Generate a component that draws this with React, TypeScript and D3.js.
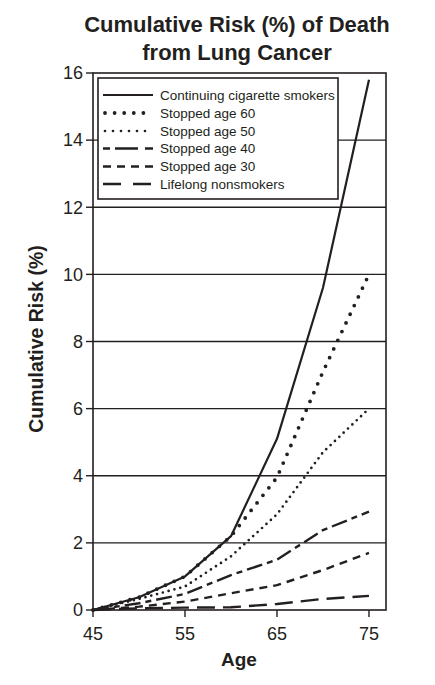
import React from "react";
import * as d3 from "d3";

const titleLines = ["Cumulative Risk (%) of Death", "from Lung Cancer"];
const ages = [45, 50, 55, 60, 65, 70, 75];
const continuing = [0, 0.38, 1.0, 2.2, 5.1, 9.6, 15.8];
const stopped60 = [0, 0.38, 1.0, 2.2, 3.95, 7.1, 10.0];
const stopped50 = [0, 0.33, 0.7, 1.6, 2.85, 4.7, 6.0];
const stopped40 = [0, 0.2, 0.48, 1.04, 1.5, 2.38, 2.93];
const stopped30 = [0, 0.1, 0.25, 0.5, 0.74, 1.19, 1.7];
const nonsmokers = [0, 0.05, 0.07, 0.08, 0.18, 0.33, 0.42];
const seriesNames = [
  "Continuing cigarette smokers",
  "Stopped age 60",
  "Stopped age 50",
  "Stopped age 40",
  "Stopped age 30",
  "Lifelong nonsmokers",
];
const xTicks = [45, 55, 65, 75];
const yTicks = [0, 2, 4, 6, 8, 10, 12, 14, 16];
const xDomain = [45, 76.85];
const yDomain = [0, 16];

const INK = "#231f20";
const FONT = "'Liberation Sans', Arial, sans-serif";

export default function App() {
  const W = 435, H = 685;
  const left = 93, right = 386, top = 73, bottom = 610;
  const x = d3.scaleLinear().domain(xDomain).range([left, right]);
  const y = d3.scaleLinear().domain(yDomain).range([bottom, top]);

  const allSeries = [continuing, stopped60, stopped50, stopped40, stopped30, nonsmokers];
  const styles = [
    { w: 2.2, dash: undefined, cap: "butt" },
    { w: 3.8, dash: "0,9.6", cap: "round" },
    { w: 2.7, dash: "0,6", cap: "round" },
    { w: 2.4, dash: "16,5,6,5", cap: "butt" },
    { w: 2.4, dash: "8,6", cap: "butt" },
    { w: 2.4, dash: "18,8", cap: "butt" },
  ];
  const legendDash = [undefined, "0,9.6", "0,8", "7,5,23,7,8", "8,6", "18,12"];

  const line = d3
    .line<number>()
    .x((_, i) => x(ages[i]))
    .y((d) => y(d));

  const legX = 98, legY = 78, legW = 240, legH = 121;
  const rowY = [95, 113, 131, 148.5, 166.5, 184];

  return (
    <svg
      width={W}
      height={H}
      style={{ position: "absolute", left: 0, top: 0, background: "#fff" }}
      fontFamily={FONT}
    >
      <rect x={0} y={0} width={W} height={H} fill="#fff" />
      {titleLines.map((t, i) => (
        <text
          key={t}
          x={237}
          y={32 + i * 28}
          textAnchor="middle"
          fontSize={22}
          fontWeight="bold"
          fill={INK}
        >
          {t}
        </text>
      ))}

      {/* grid lines */}
      {yTicks.filter((t) => t > 0 && t < 16).map((t) => (
        <line key={t} x1={left} x2={right} y1={y(t)} y2={y(t)} stroke={INK} strokeWidth={1.4} />
      ))}

      {/* frame */}
      <rect x={left} y={top} width={right - left} height={bottom - top} fill="none" stroke={INK} strokeWidth={1.6} />

      {/* y ticks */}
      {yTicks.map((t) => (
        <g key={t}>
          <line x1={left - 7} x2={left} y1={y(t)} y2={y(t)} stroke={INK} strokeWidth={1.4} />
          <text x={83} y={y(t) + 6.3} textAnchor="end" fontSize={18} fill={INK}>
            {t}
          </text>
        </g>
      ))}

      {/* x ticks */}
      {xTicks.map((t) => (
        <g key={t}>
          <line x1={x(t)} x2={x(t)} y1={bottom} y2={bottom + 7} stroke={INK} strokeWidth={1.4} />
          <text x={x(t)} y={640} textAnchor="middle" fontSize={18} fill={INK}>
            {t}
          </text>
        </g>
      ))}

      <text x={239} y={666} textAnchor="middle" fontSize={19} fontWeight="bold" fill={INK}>
        Age
      </text>
      <text
        transform={`translate(42.5,339) rotate(-90)`}
        textAnchor="middle"
        fontSize={19.5}
        fontWeight="bold"
        fill={INK}
      >
        Cumulative Risk (%)
      </text>

      {/* series */}
      {allSeries.map((s, i) => (
        <path
          key={i}
          d={line(s) || ""}
          fill="none"
          stroke={INK}
          strokeWidth={styles[i].w}
          strokeDasharray={styles[i].dash}
          strokeLinecap={styles[i].cap as any}
          strokeLinejoin="round"
        />
      ))}

      {/* legend */}
      <rect x={legX} y={legY} width={legW} height={legH} fill="#fff" stroke={INK} strokeWidth={1.6} />
      {seriesNames.map((n, i) => (
        <g key={n}>
          <line
            x1={i === 1 || i === 2 ? 105 : 103}
            x2={153}
            y1={rowY[i]}
            y2={rowY[i]}
            stroke={INK}
            strokeWidth={styles[i].w}
            strokeDasharray={legendDash[i]}
            strokeLinecap={styles[i].cap as any}
          />
          <text x={160} y={rowY[i] + 4.8} fontSize={13.5} fill={INK}>
            {n}
          </text>
        </g>
      ))}
    </svg>
  );
}
